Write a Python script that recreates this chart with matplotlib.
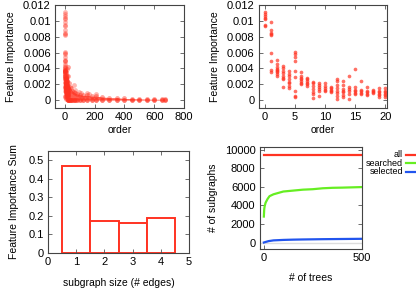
import matplotlib
matplotlib.use("Agg")
import matplotlib.pyplot as plt
from matplotlib.ticker import FuncFormatter
from matplotlib.lines import Line2D

plt.rcParams['font.family'] = ['Liberation Sans', 'DejaVu Sans']
plt.rcParams['font.size'] = 8
plt.rcParams['axes.labelsize'] = 7.5

# importance per order, several runs
imp_by_order = {
    0: [0.0111, 0.0109, 0.0106, 0.0104, 0.0102, 0.0095, 0.0093],
    1: [0.0098, 0.0088, 0.0085, 0.0083, 0.0082, 0.0059, 0.0049, 0.0038, 0.0035],
    2: [0.0050, 0.0046, 0.0042, 0.0039, 0.0038, 0.0037, 0.0035, 0.0033, 0.0031],
    3: [0.0043, 0.0040, 0.0037, 0.0034, 0.0031, 0.0028, 0.0026, 0.0016],
    4: [0.0037, 0.0033, 0.0030, 0.0027, 0.0023, 0.0022, 0.0018, 0.0015],
    5: [0.0061, 0.0058, 0.0054, 0.0049, 0.0037, 0.0029, 0.0011, 0.0005, 0.0004],
    6: [0.0035, 0.0031, 0.0028, 0.0026, 0.0024, 0.0022, 0.0020],
    7: [0.0028, 0.0026, 0.0024, 0.0022, 0.0020, 0.0018],
    8: [0.0023, 0.0021, 0.0018, 0.0014, 0.0010, 0.0008, 0.0002],
    9: [0.0022, 0.0019, 0.0016, 0.0014, 0.0012, 0.0005],
    10: [0.0022, 0.0018, 0.0015, 0.0013, 0.0011],
    11: [0.0017, 0.0015, 0.0013, 0.0011, 0.0010],
    12: [0.0027, 0.0024, 0.0019, 0.0015, 0.0012, 0.0009, 0.0005, 0.0001],
    13: [0.0024, 0.0019, 0.0014, 0.0012, 0.0010, 0.0007, 0.0004],
    14: [0.0030, 0.0016, 0.0014, 0.0012, 0.0008, 0.0001],
    15: [0.0039, 0.0016, 0.0013, 0.0011, 0.0009, 0.0008],
    16: [0.0024, 0.0013, 0.0011, 0.0009, 0.0008],
    17: [0.0016, 0.0012, 0.0010, 0.0008, 0.0006],
    18: [0.0013, 0.0011, 0.0010, 0.0009],
    19: [0.0015, 0.0012, 0.0010, 0.0008, 0.0006, 0.0004],
    20: [0.0015, 0.0012, 0.0010, 0.0008, 0.0006, 0.0004],
}

# long tail (left top panel): upper edge of the dense band
tail_order = [21, 25, 30, 35, 40, 50, 60, 70, 80, 100, 120, 150, 180, 210,
              250, 300, 350, 400, 450, 500, 550, 600, 650, 670]
tail_top = [0.0042, 0.0030, 0.0022, 0.0017, 0.0015, 0.0012, 0.0010, 0.0009,
            0.0008, 0.0007, 0.0006, 0.0006, 0.0005, 0.0005, 0.0004, 0.0003,
            0.0003, 0.0002, 0.00018, 0.00015, 0.00012, 0.0001, 0.0001, 0.0001]
outlier_order = [62, 70, 95, 110, 150, 165, 210]
outlier_val = [0.0019, 0.0013, 0.0010, 0.0009, 0.0009, 0.0008, 0.0008]

# importance sum by subgraph size
sizes = [1, 2, 3, 4]
imp_sum = [0.47, 0.175, 0.16, 0.19]

# number of subgraphs vs number of trees
trees_all = [0, 500]
n_all = [9400, 9400]
trees_searched = [1, 3, 5, 10, 20, 30, 50, 75, 100, 150, 200, 250, 300, 350, 400, 450, 500]
n_searched = [2800, 3600, 3900, 4300, 4700, 5000, 5200, 5350, 5500, 5600,
              5700, 5750, 5850, 5900, 5920, 5950, 5980]
trees_selected = [1, 10, 25, 50, 100, 150, 200, 300, 400, 500]
n_selected = [0, 60, 150, 230, 280, 310, 330, 360, 380, 400]

RED = '#ff3322'
GREEN = '#66ee22'
BLUE = '#2255ee'

fmt = FuncFormatter(lambda v, p: '%g' % v)


def style(ax):
    ax.tick_params(direction='in', top=True, right=True, length=3, width=0.6,
                   color='#555555', pad=3)
    for s in ax.spines.values():
        s.set_color('#444444')
        s.set_linewidth(0.8)
    ax.yaxis.set_major_formatter(fmt)
    ax.xaxis.set_major_formatter(fmt)


fig = plt.figure(figsize=(4.16, 2.91), dpi=100)

# top left
ax1 = fig.add_axes([0.1322, 0.6289, 0.310, 0.354])
xs, ys = [], []
for o, vals in imp_by_order.items():
    xs += [o] * len(vals)
    ys += vals
ax1.fill_between(tail_order, 0, tail_top, color=RED, alpha=0.8, lw=0)
ax1.scatter(xs, ys, s=12, color=RED, alpha=0.35, lw=0)
ax1.scatter(tail_order, tail_top, s=12, color=RED, alpha=0.45, lw=0)
ax1.scatter(tail_order, [0] * len(tail_order), s=12, color=RED, alpha=0.7, lw=0)
ax1.scatter(outlier_order, outlier_val, s=12, color=RED, alpha=0.35, lw=0)
ax1.set_xlim(-65, 800)
ax1.set_ylim(-0.001, 0.012)
ax1.set_xticks([0, 200, 400, 600, 800])
ax1.set_yticks([0, 0.002, 0.004, 0.006, 0.008, 0.01, 0.012])
ax1.set_xlabel('order', labelpad=2)
ax1.set_ylabel('Feature Importance', labelpad=5)
style(ax1)

# top right
ax2 = fig.add_axes([0.622, 0.6289, 0.3084, 0.354])
ax2.scatter(xs, ys, s=7, color=RED, alpha=0.7, lw=0)
ax2.set_xlim(-1, 20.3)
ax2.set_ylim(-0.001, 0.012)
ax2.set_xticks([0, 5, 10, 15, 20])
ax2.set_yticks([0, 0.002, 0.004, 0.006, 0.008, 0.01, 0.012])
ax2.set_xlabel('order', labelpad=2)
ax2.set_ylabel('Feature Importance', labelpad=5)
style(ax2)

# bottom left
ax3 = fig.add_axes([0.1154, 0.1306, 0.339, 0.3505])
ax3.bar(sizes, imp_sum, width=1.0, facecolor='white', edgecolor=RED, lw=1.4)
ax3.set_xlim(0, 5)
ax3.set_ylim(0, 0.55)
ax3.set_xticks([0, 1, 2, 3, 4, 5])
ax3.set_yticks([0, 0.1, 0.2, 0.3, 0.4, 0.5])
ax3.set_xlabel('subgraph size (# edges)', labelpad=8)
ax3.set_ylabel('Feature Importance Sum', labelpad=7)
style(ax3)

# bottom right
ax4 = fig.add_axes([0.6243, 0.1443, 0.2459, 0.3505])
ax4.axhline(0, color='#dddddd', lw=1.0)
series = [('all', trees_all, n_all, RED),
          ('searched', trees_searched, n_searched, GREEN),
          ('selected', trees_selected, n_selected, BLUE)]
for name, x, y, c in series:
    ax4.plot(x, y, color=c, lw=1.6)
ax4.set_xlim(-20, 500)
ax4.set_ylim(-700, 10300)
ax4.set_xticks([0, 500])
ax4.set_yticks([0, 2000, 4000, 6000, 8000, 10000])
ax4.set_xlabel('# of trees', labelpad=7)
ax4.set_ylabel('# of subgraphs', labelpad=5)
style(ax4)

# legend outside on the right, text then sample line
for i, (name, x, y, c) in enumerate(series):
    yy = 1 - (154.5 + i * 8.7) / 291
    fig.text(403 / 416, yy, name, ha='right', va='center', fontsize=6.5)
    fig.add_artist(Line2D([406 / 416, 416 / 416], [yy, yy], color=c, lw=1.6,
                          transform=fig.transFigure))

fig.savefig('out.png', dpi=100)
